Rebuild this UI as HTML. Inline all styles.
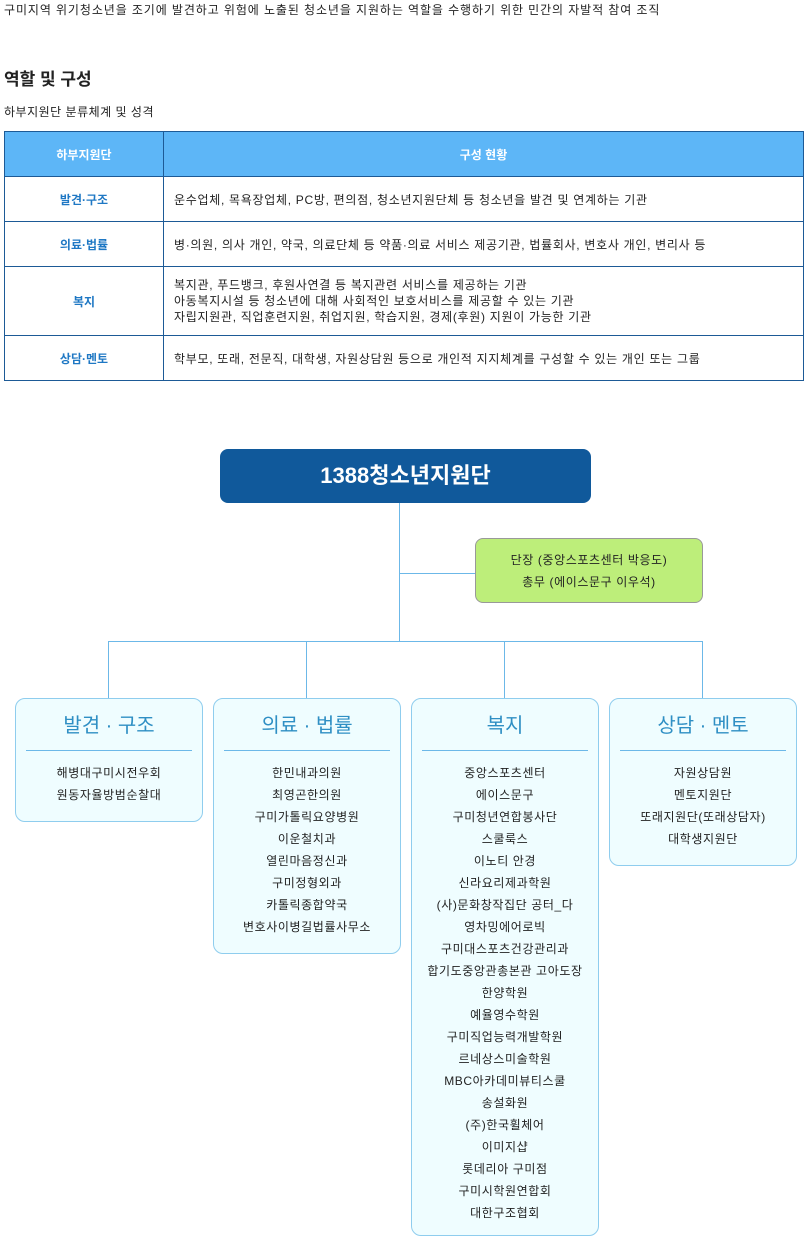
<!DOCTYPE html>
<html><head><meta charset="utf-8"><style>
*{margin:0;padding:0;box-sizing:border-box}
body{width:807px;height:1243px;background:#fff;position:relative;font-family:"Liberation Sans","Noto Sans CJK KR",sans-serif;color:#222;overflow:hidden}
.a{position:absolute}
.s{letter-spacing:0.9px}
table{position:absolute;left:4px;top:131px;width:800px;border-collapse:collapse;font-size:12px}
td{border:1px solid #1d5a96;padding:0 10px;letter-spacing:0.7px}
th{background:#5db6f7;color:#fff;font-weight:bold;border:1px solid #1d5a96;height:45px;font-size:12px}
td.k{color:#1f78c4;font-weight:bold;text-align:center;width:159px;letter-spacing:0}
.l{background:#6cb8e8}
.box{position:absolute;top:698px;width:188px;border:1px solid #8fcdee;border-radius:10px;background:#effdff;text-align:center}
.box h3{font-weight:normal;font-size:20px;color:#2f8fc4;margin:0 10px;border-bottom:1px solid #6cb8e8;height:52px;line-height:54px}
.box p{font-size:12px;line-height:22px;margin-top:11px;letter-spacing:0.6px}
</style></head><body>
<div class="a s" style="left:4px;top:1px;font-size:12px">구미지역 위기청소년을 조기에 발견하고 위험에 노출된 청소년을 지원하는 역할을 수행하기 위한 민간의 자발적 참여 조직</div>
<div class="a" style="left:4px;top:65px;font-size:17px;font-weight:bold">역할 및 구성</div>
<div class="a" style="left:4px;top:103px;font-size:12px;letter-spacing:0.5px">하부지원단 분류체계 및 성격</div>
<table>
<tr><th style="width:159px">하부지원단</th><th>구성 현황</th></tr>
<tr style="height:45px"><td class="k">발견·구조</td><td>운수업체, 목욕장업체, PC방, 편의점, 청소년지원단체 등 청소년을 발견 및 연계하는 기관</td></tr>
<tr style="height:45px"><td class="k">의료·법률</td><td>병·의원, 의사 개인, 약국, 의료단체 등 약품·의료 서비스 제공기관, 법률회사, 변호사 개인, 변리사 등</td></tr>
<tr style="height:69px"><td class="k">복지</td><td style="line-height:16px">복지관, 푸드뱅크, 후원사연결 등 복지관련 서비스를 제공하는 기관<br>아동복지시설 등 청소년에 대해 사회적인 보호서비스를 제공할 수 있는 기관<br>자립지원관, 직업훈련지원, 취업지원, 학습지원, 경제(후원) 지원이 가능한 기관</td></tr>
<tr style="height:45px"><td class="k">상담·멘토</td><td>학부모, 또래, 전문직, 대학생, 자원상담원 등으로 개인적 지지체계를 구성할 수 있는 개인 또는 그룹</td></tr>
</table>

<div class="a" style="left:220px;top:449px;width:371px;height:54px;background:#10599b;border-radius:8px;color:#fff;font-size:22px;font-weight:bold;text-align:center;line-height:54px">1388청소년지원단</div>
<div class="a l" style="left:399px;top:503px;width:1px;height:139px"></div>
<div class="a l" style="left:399px;top:573px;width:76px;height:1px"></div>
<div class="a" style="left:475px;top:538px;width:228px;height:65px;background:#bdee7a;border:1px solid #999;border-radius:8px;text-align:center;font-size:12px;line-height:22px;padding-top:10px;letter-spacing:0.6px">단장 (중앙스포츠센터 박응도)<br>총무 (에이스문구 이우석)</div>
<div class="a l" style="left:108px;top:641px;width:595px;height:1px"></div>
<div class="a l" style="left:108px;top:641px;width:1px;height:57px"></div>
<div class="a l" style="left:306px;top:641px;width:1px;height:57px"></div>
<div class="a l" style="left:504px;top:641px;width:1px;height:57px"></div>
<div class="a l" style="left:702px;top:641px;width:1px;height:57px"></div>

<div class="box" style="left:15px;height:124px"><h3>발견 · 구조</h3><p>해병대구미시전우회<br>원동자율방범순찰대</p></div>
<div class="box" style="left:213px;height:256px"><h3>의료 · 법률</h3><p>한민내과의원<br>최영곤한의원<br>구미가톨릭요양병원<br>이운철치과<br>열린마음정신과<br>구미정형외과<br>카톨릭종합약국<br>변호사이병길법률사무소</p></div>
<div class="box" style="left:411px;height:538px"><h3>복지</h3><p>중앙스포츠센터<br>에이스문구<br>구미청년연합봉사단<br>스쿨룩스<br>이노티 안경<br>신라요리제과학원<br>(사)문화창작집단 공터_다<br>영차밍에어로빅<br>구미대스포츠건강관리과<br>합기도중앙관총본관 고아도장<br>한양학원<br>예율영수학원<br>구미직업능력개발학원<br>르네상스미술학원<br>MBC아카데미뷰티스쿨<br>송설화원<br>(주)한국휠체어<br>이미지샵<br>롯데리아 구미점<br>구미시학원연합회<br>대한구조협회</p></div>
<div class="box" style="left:609px;height:168px"><h3>상담 · 멘토</h3><p>자원상담원<br>멘토지원단<br>또래지원단(또래상담자)<br>대학생지원단</p></div>
</body></html>
